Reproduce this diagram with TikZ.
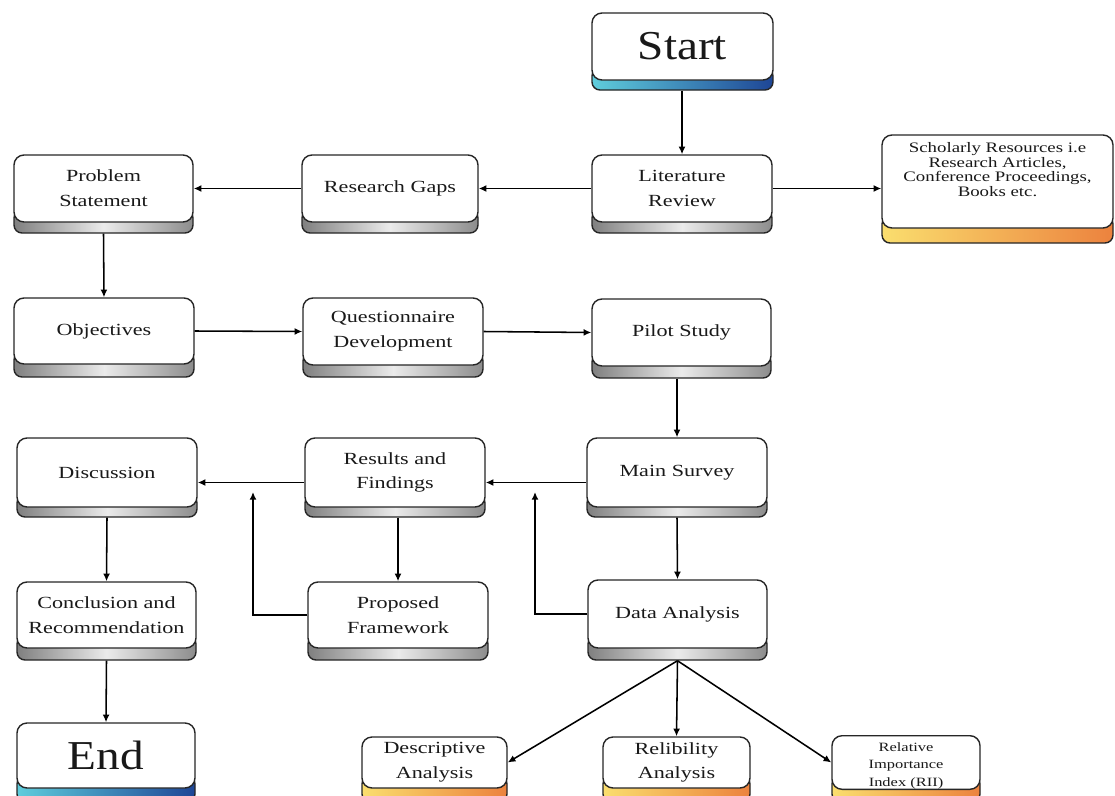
\documentclass[tikz,border=0pt]{standalone}
\usepackage{fontspec}
\setmainfont{Liberation Serif}
\newfontfamily\wideserif[FakeStretch=1.3]{Liberation Serif}
\newfontfamily\bigserif[FakeStretch=1.15]{Liberation Serif}
\usetikzlibrary{arrows.meta,calc}
\definecolor{bandBlueL}{RGB}{95,205,220}
\definecolor{bandBlueR}{RGB}{30,70,150}
\definecolor{bandOrL}{RGB}{250,222,110}
\definecolor{bandOrR}{RGB}{236,130,62}
\definecolor{txt}{RGB}{25,25,25}
\tikzset{
  box/.style={draw=black!85, line width=1pt, rounded corners=0.25cm, fill=white, inner sep=0pt, text=txt, align=center},
  band/.style={draw=black!85, line width=1pt, rounded corners=0.2cm, inner sep=0pt},
  grayband/.style={band, left color=black!50, right color=black!45, middle color=black!8},
  blueband/.style={band, left color=bandBlueL, right color=bandBlueR},
  orband/.style={band, left color=bandOrL, right color=bandOrR},
  lbl/.style={font=\wideserif\fontsize{12.1}{17.6}\selectfont},
  schol/.style={font=\wideserif\fontsize{10.3}{10.3}\selectfont},
  riil/.style={font=\wideserif\fontsize{9.0}{12.6}\selectfont},
  bigl/.style={font=\bigserif\fontsize{29.2}{34}\selectfont},
  conn/.style={draw=black, line width=1.1pt, -{Latex[length=5.5pt,width=5pt]}},
}
% #1 name, #2 x1, #3 y1, #4 x2, #5 white bottom, #6 band bottom, #7 band style, #8 text style, #9 text
\newcommand\flowbox[9]{%
  \node[#7, minimum width={(#4-#2)*0.025cm}, minimum height={(#6-#5+12)*0.025cm}]
     (#1-b) at ({(#2+#4)/2},{(#5-12+#6)/2}) {};
  \node[box, #8, minimum width={(#4-#2)*0.025cm}, minimum height={(#5-#3)*0.025cm}]
     (#1) at ({(#2+#4)/2},{(#3+#5)/2}) {#9};
}
\begin{document}
\begin{tikzpicture}[x=0.025cm,y=-0.025cm]
\useasboundingbox (0,0) rectangle (1115,795);
\clip (0,0) rectangle (1115,795);
% row 0
\flowbox{start}{592}{13}{773}{80}{90}{blueband}{bigl}{Start}
% row 1
\flowbox{ps}{14}{155}{193}{222}{233}{grayband}{lbl}{Problem\\Statement}
\flowbox{rg}{302}{155}{478}{222}{233}{grayband}{lbl}{Research Gaps}
\flowbox{lit}{592}{155}{772}{222}{233}{grayband}{lbl}{Literature\\Review}
\flowbox{sch}{882}{135}{1113}{228}{243}{orband}{schol}{Scholarly Resources i.e\\Research Articles,\\Conference Proceedings,\\Books etc.\rule[-17pt]{0pt}{0pt}}
% row 2
\flowbox{obj}{14}{298}{194}{364}{377}{grayband}{lbl}{Objectives}
\flowbox{qd}{303}{298}{483}{365}{377}{grayband}{lbl}{Questionnaire\\Development}
\flowbox{pilot}{592}{299}{771}{366}{378}{grayband}{lbl}{Pilot Study}
% row 3
\flowbox{disc}{17}{438}{197}{507}{517}{grayband}{lbl}{Discussion}
\flowbox{rf}{305}{438}{485}{507}{517}{grayband}{lbl}{Results and\\Findings}
\flowbox{ms}{587}{438}{767}{507}{517}{grayband}{lbl}{Main Survey}
% row 4
\flowbox{conc}{17}{582}{196}{648}{660}{grayband}{lbl}{Conclusion and\\Recommendation}
\flowbox{pf}{308}{582}{488}{648}{660}{grayband}{lbl}{Proposed\\Framework}
\flowbox{da}{588}{580}{767}{648}{660}{grayband}{lbl}{Data Analysis}
% row 5
\flowbox{end}{17}{723}{195}{788}{802}{blueband}{bigl}{End}
\flowbox{desc}{362}{737}{507}{788}{802}{orband}{lbl}{Descriptive\\Analysis}
\flowbox{rel}{603}{737}{750}{788}{802}{orband}{lbl}{Relibility\\Analysis}
\flowbox{rii}{832}{737}{980}{788}{802}{orband}{riil}{\rule{0pt}{11pt}Relative\\Importance\\Index (RII)}
% connectors
\draw[conn] (lit.north |- start-b.south) -- (lit.north);
\draw[conn] (lit.west) -- (rg.east);
\draw[conn] (lit.east) -- (lit.east -| sch.west);
\draw[conn] (rg.west) -- (ps.east);
\draw[conn] (ps-b.south) -- (obj.north);
\draw[conn] (obj.east) -- (qd.west);
\draw[conn] (qd.east) -- (pilot.west);
\draw[conn] (ms.north |- pilot-b.south) -- (ms.north);
\draw[conn] ($(ms.west)+(0,10)$) -- ($(rf.east)+(0,10)$);
\draw[conn] ($(rf.west)+(0,10)$) -- ($(disc.east)+(0,10)$);
\draw[conn] (pf.north |- rf-b.south) -- (pf.north);
\coordinate (pfup) at (253,492);
\draw[conn] (pf.west) -| (pfup);
\coordinate (daup) at (535,492);
\draw[conn] (da.west) -| (daup);
\draw[conn] (ms-b.south) -- (da.north);
\draw[conn] (disc-b.south) -- (conc.north);
\draw[conn] (conc-b.south) -- (end.north);
\draw[conn] (da-b.south) -- (desc.east);
\draw[conn] (da-b.south) -- (rel.north);
\draw[conn] (da-b.south) -- (rii.west);
\end{tikzpicture}
\end{document}
